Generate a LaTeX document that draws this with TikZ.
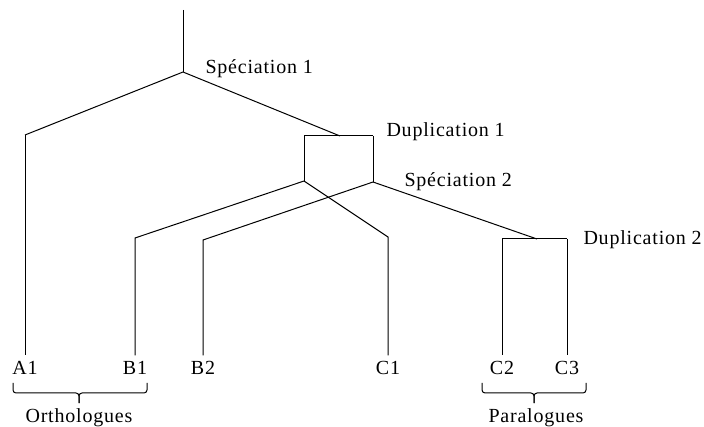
\documentclass[tikz,border=0pt]{standalone}
\usepackage{fontspec}
\setmainfont{Liberation Serif}[LetterSpace=4]

\begin{document}
\begin{tikzpicture}[
  x=1pt, y=-1pt,
  line width=1pt,
  lbl/.style={anchor=base west, inner sep=0pt, font=\fontsize{20}{24}\selectfont},
  leaf/.style={anchor=base, inner sep=1pt, outer sep=5.5pt, font=\fontsize{20}{24}\selectfont},
  grp/.style={anchor=base, inner sep=0pt, font=\fontsize{20}{24}\selectfont},
  brc/.style={rounded corners=3pt}
]
\useasboundingbox (0,0) rectangle (704,427);

% branch points
\coordinate (root) at (183,10);
\coordinate (spec1) at (183,72);
\coordinate (a1top) at (25,135);
\coordinate (dup1) at (340,136);
\coordinate (dup1l) at (304,136);
\coordinate (dup1r) at (373,136);
\coordinate (spec2a) at (304,181);
\coordinate (spec2b) at (373,182);
\coordinate (b1top) at (135,238);
\coordinate (c1top) at (388,237);
\coordinate (b2top) at (203,240);
\coordinate (dup2) at (537,239);
\coordinate (dup2l) at (502,239);
\coordinate (dup2r) at (567,239);

% event labels
\node[lbl] (lspec1) at (205,74) {Spéciation 1};
\node[lbl] (ldup1) at (386,137) {Duplication 1};
\node[lbl] (lspec2) at (404,187) {Spéciation 2};
\node[lbl] (ldup2) at (583,245) {Duplication 2};

% leaves
\node[leaf] (A1) at (25,375) {A1};
\node[leaf] (B1) at (135,375) {B1};
\node[leaf] (B2) at (203,375) {B2};
\node[leaf] (C1) at (388,375) {C1};
\node[leaf] (C2) at (502,375) {C2};
\node[leaf] (C3) at (567,375) {C3};

% tree
\draw (root) -- (spec1);
\draw (a1top) -- (spec1) -- (dup1);
\draw (a1top) -- (A1.north);
\draw (dup1l) -- (dup1r);
\draw (dup1l) -- (spec2a);
\draw (dup1r) -- (spec2b);
\draw (spec2a) -- (b1top) -- (B1.north);
\draw (spec2a) -- (c1top) -- (C1.north);
\draw (spec2b) -- (b2top) -- (B2.north);
\draw (spec2b) -- (dup2);
\draw (dup2l) -- (dup2r);
\draw (dup2l) -- (C2.north);
\draw (dup2r) -- (C3.north);

% groups
\coordinate (orthl) at (13,383);
\coordinate (orthr) at (147,383);
\coordinate (orthm) at (79,393);
\coordinate (orthtip) at (79,403);
\coordinate (paral) at (482,383);
\coordinate (parar) at (586,383);
\coordinate (param) at (534,393);
\coordinate (paratip) at (534,403);
\draw[brc] (orthl) |- (orthm) -- (orthtip);
\draw[brc] (orthr) |- (orthm) -- (orthtip);
\draw[brc] (paral) |- (param) -- (paratip);
\draw[brc] (parar) |- (param) -- (paratip);
\node[grp] (ortho) at (79,422) {Orthologues};
\node[grp] (para) at (536,422) {Paralogues};
\end{tikzpicture}
\end{document}
